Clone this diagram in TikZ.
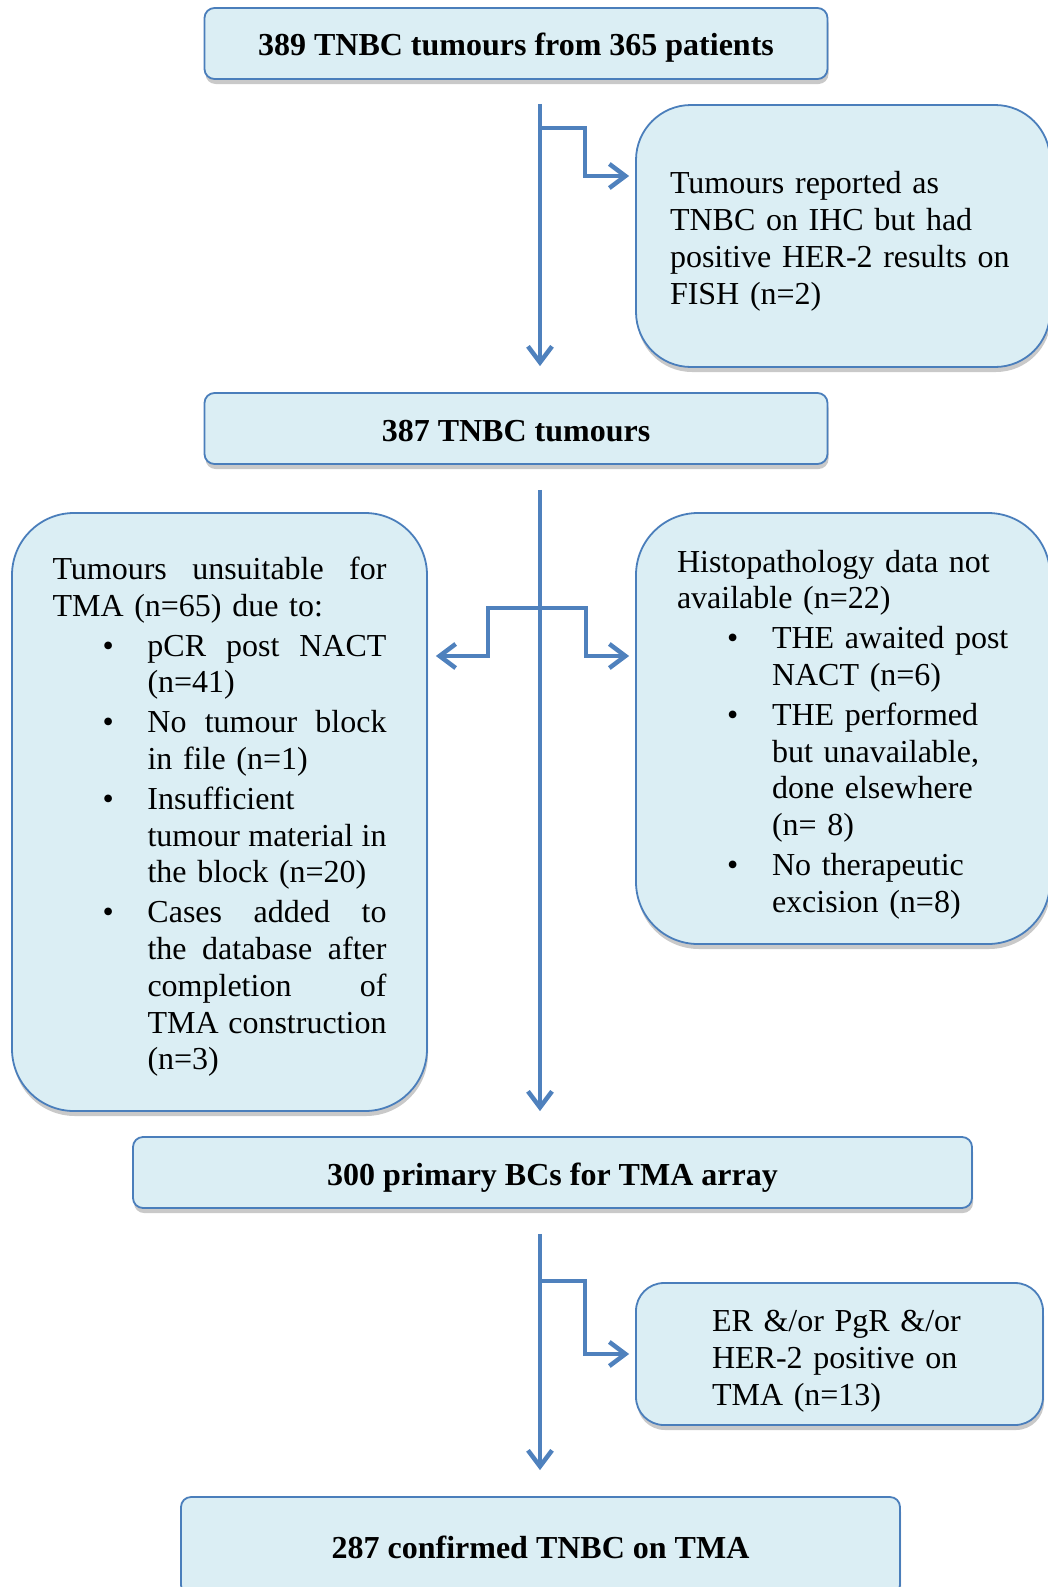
\documentclass[tikz,border=0pt]{standalone}
\usepackage{fontspec}
\setmainfont{Liberation Serif}
\usetikzlibrary{arrows.meta,shadows}
\definecolor{boxfill}{HTML}{DBEEF4}
\definecolor{boxline}{HTML}{4A7EBB}
\definecolor{flow}{HTML}{4F81BD}
% bullet line: bullet, then the item text at a fixed indent
\newcommand{\bitem}[1]{\hspace*{50pt}\makebox[45pt][l]{\textbullet}#1}
% continuation line of a bullet item
\newcommand{\cont}{\hspace*{95pt}}
% justified line: words separated by \hfill inside a box of the given width
\newcommand{\jline}[2]{\hbox to #1{#2}}
% extra room above the first line of a note
\newcommand{\topstrut}[1]{\rule{0pt}{#1}}
\begin{document}
\begin{tikzpicture}[x=1pt,y=-1pt,
  box/.style={draw=boxline, line width=1.8pt, fill=boxfill, rounded corners=10pt,
    inner sep=0pt, font=\fontsize{32}{36.8}\selectfont,
    drop shadow={shadow xshift=1pt, shadow yshift=-5pt, opacity=0.3, fill=black!70}},
  title/.style={box, font=\fontsize{32}{36.8}\selectfont\bfseries,
    text height=32pt, text depth=7pt},
  note/.style={box, align=left},
  arr/.style={draw=flow, line width=4.5pt, -{Straight Barb[length=16pt,width=24pt]}},
  ]
\useasboundingbox (0,0) rectangle (1048,1587);
\clip (0,0) rectangle (1048,1587);

% boxes
\node[title, minimum width=623pt, minimum height=71pt] (start) at (516,43.5)
  {389 TNBC tumours from 365 patients};
\node[note, rounded corners=55pt, minimum width=414pt, minimum height=262pt, text width=346pt]
  (fish) at (843,236)
  {\topstrut{33pt}Tumours reported as\\TNBC on IHC but had\\positive HER-2 results on\\FISH (n=2)};
\node[title, minimum width=623pt, minimum height=71pt] (tnbc) at (516,428.5)
  {387 TNBC tumours};
\node[note, rounded corners=62pt, minimum width=415pt, minimum height=598pt, text width=334pt]
  (unsuit) at (219.5,812)
  {\jline{334pt}{\topstrut{32pt}Tumours\hfill unsuitable\hfill for}\\
   TMA (n=65) due to:\\[3pt]
   \bitem{\jline{239pt}{pCR\hfill post\hfill NACT}}\\
   \cont(n=41)\\[3pt]
   \bitem{\jline{239pt}{No\hfill tumour\hfill block}}\\
   \cont in file (n=1)\\[3pt]
   \bitem{Insufficient}\\
   \cont\jline{239pt}{tumour\hfill material\hfill in}\\
   \cont the block (n=20)\\[3pt]
   \bitem{\jline{239pt}{Cases\hfill added\hfill to}}\\
   \cont\jline{239pt}{the\hfill database\hfill after}\\
   \cont\jline{239pt}{completion\hfill of}\\
   \cont\jline{239pt}{TMA\hfill construction}\\
   \cont(n=3)};
\node[note, rounded corners=62pt, minimum width=414pt, minimum height=431pt, text width=332pt]
  (histo) at (843,728.5)
  {\topstrut{34pt}Histopathology data not\\
   available (n=22)\\[3pt]
   \bitem{THE awaited post}\\
   \cont NACT (n=6)\\[3pt]
   \bitem{THE performed}\\
   \cont but unavailable,\\
   \cont done elsewhere\\
   \cont(n= 8)\\[3pt]
   \bitem{No therapeutic}\\
   \cont excision (n=8)};
\node[title, minimum width=839pt, minimum height=71pt] (array) at (552.5,1172.5)
  {300 primary BCs for TMA array};
\node[note, rounded corners=28pt, minimum width=407pt, minimum height=142pt, text width=255pt]
  (pos) at (839.5,1354)
  {\topstrut{36pt}ER \&/or PgR \&/or\\HER-2 positive on\\TMA (n=13)};
\node[title, minimum width=719pt, minimum height=98pt] (final) at (540.5,1546)
  {287 confirmed TNBC on TMA};

% main flow line and side branches
\coordinate (spine) at (540,0);
\draw[arr, shorten <=24pt, shorten >=26pt] (start.south -| spine) -- (tnbc.north -| spine);
\draw[arr, shorten <=25pt, shorten >=25pt] (tnbc.south -| spine) -- (array.north -| spine);
\draw[arr, shorten <=25pt, shorten >=26pt] (array.south -| spine) -- (final.north -| spine);

\coordinate (j1) at (540,128);
\coordinate (k1) at (585,176);
\draw[arr, shorten >=6pt] (j1) -| (k1) -- (k1 -| fish.west);

\coordinate (j2) at (540,608);
\coordinate (kl) at (488,656);
\coordinate (kr) at (586,656);
\draw[arr, shorten >=8pt] (j2) -| (kl) -- (kl -| unsuit.east);
\draw[arr, shorten >=6pt] (j2) -| (kr) -- (kr -| histo.west);

\coordinate (j3) at (540,1281);
\coordinate (k3) at (585,1354);
\draw[arr, shorten >=6pt] (j3) -| (k3) -- (k3 -| pos.west);
\end{tikzpicture}
\end{document}
